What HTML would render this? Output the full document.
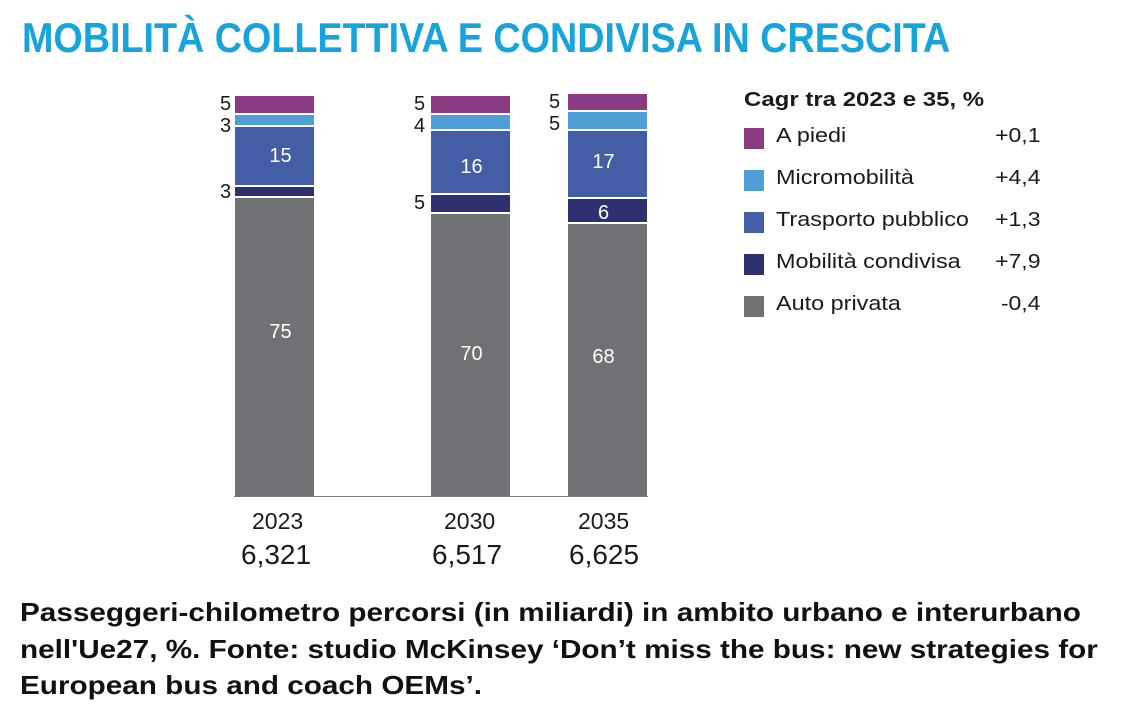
<!DOCTYPE html>
<html><head><meta charset="utf-8"><style>
body{margin:0;width:1146px;height:712px;background:#fff;position:relative;overflow:hidden;font-family:"Liberation Sans",Arial,sans-serif;color:#1a1a1a}
.a{position:absolute}
.t{left:22px;top:14px;font-size:42px;font-weight:bold;color:#17a3dc;white-space:nowrap;transform-origin:0 0;transform:scaleX(0.898)}
.s{position:absolute;border-bottom:2px solid #fff;box-sizing:border-box}
.w{color:#fff;font-size:20px;text-align:center;position:absolute;width:79px}
.l{font-size:20px;position:absolute}
.sq{position:absolute;left:744px;width:20px;height:21px}
.lt{position:absolute;left:776px;font-size:20px;transform-origin:0 0;transform:scaleX(1.17);white-space:nowrap}
.lv{position:absolute;right:106px;font-size:20px;transform-origin:100% 0;transform:scaleX(1.15)}
.cap{left:20px;top:594px;font-size:26px;font-weight:bold;line-height:36.5px;color:#111;white-space:nowrap;transform-origin:0 0;transform:scaleX(1.142)}
</style></head><body>
<div class="a t">MOBILITÀ COLLETTIVA E CONDIVISA IN CRESCITA</div>

<div class="s" style="left:235px;width:79px;top:96px;height:19px;background:#8b3a84"></div>
<div class="s" style="left:235px;width:79px;top:115px;height:12px;background:#4f9fd6"></div>
<div class="s" style="left:235px;width:79px;top:127px;height:60px;background:#445ea6"></div>
<div class="s" style="left:235px;width:79px;top:187px;height:11px;background:#2e3070"></div>
<div class="s" style="left:235px;width:79px;top:198px;height:299px;background:#707174;border:none"></div>
<div class="s" style="left:431px;width:79px;top:96px;height:19px;background:#8b3a84"></div>
<div class="s" style="left:431px;width:79px;top:115px;height:16px;background:#4f9fd6"></div>
<div class="s" style="left:431px;width:79px;top:131px;height:64px;background:#445ea6"></div>
<div class="s" style="left:431px;width:79px;top:195px;height:19px;background:#2e3070"></div>
<div class="s" style="left:431px;width:79px;top:214px;height:283px;background:#707174;border:none"></div>
<div class="s" style="left:568px;width:79px;top:94px;height:18px;background:#8b3a84"></div>
<div class="s" style="left:568px;width:79px;top:112px;height:19px;background:#4f9fd6"></div>
<div class="s" style="left:568px;width:79px;top:131px;height:68px;background:#445ea6"></div>
<div class="s" style="left:568px;width:79px;top:199px;height:25px;background:#2e3070"></div>
<div class="s" style="left:568px;width:79px;top:224px;height:273px;background:#707174;border:none"></div>
<div class="a" style="left:234px;top:496px;width:414px;height:1px;background:#777"></div>

<div class="w" style="left:241px;top:145px">15</div>
<div class="w" style="left:241px;top:321px">75</div>
<div class="w" style="left:432px;top:156px">16</div>
<div class="w" style="left:432px;top:343px">70</div>
<div class="w" style="left:564px;top:151px">17</div>
<div class="w" style="left:564px;top:202px">6</div>
<div class="w" style="left:564px;top:346px">68</div>

<div class="l" style="left:220px;top:93px">5</div>
<div class="l" style="left:220px;top:115px">3</div>
<div class="l" style="left:220px;top:181px">3</div>
<div class="l" style="left:414px;top:93px">5</div>
<div class="l" style="left:414px;top:115px">4</div>
<div class="l" style="left:414px;top:192px">5</div>
<div class="l" style="left:549px;top:91px">5</div>
<div class="l" style="left:549px;top:113px">5</div>

<div class="a" style="left:252px;top:508px;font-size:23px">2023</div>
<div class="a" style="left:444px;top:508px;font-size:23px">2030</div>
<div class="a" style="left:578px;top:508px;font-size:23px">2035</div>
<div class="a" style="left:241px;top:539px;font-size:28px">6,321</div>
<div class="a" style="left:432px;top:539px;font-size:28px">6,517</div>
<div class="a" style="left:569px;top:539px;font-size:28px">6,625</div>

<div class="a" style="left:744px;top:89px;font-size:20px;font-weight:bold;transform-origin:0 0;transform:scaleX(1.2);white-space:nowrap">Cagr tra 2023 e 35, %</div>
<div class="sq" style="top:128px;background:#8b3a84"></div><div class="lt" style="top:125px">A piedi</div><div class="lv" style="top:125px">+0,1</div>
<div class="sq" style="top:170px;background:#4f9fd6"></div><div class="lt" style="top:167px">Micromobilità</div><div class="lv" style="top:167px">+4,4</div>
<div class="sq" style="top:212px;background:#445ea6"></div><div class="lt" style="top:209px">Trasporto pubblico</div><div class="lv" style="top:209px">+1,3</div>
<div class="sq" style="top:254px;background:#2e3070"></div><div class="lt" style="top:251px">Mobilità condivisa</div><div class="lv" style="top:251px">+7,9</div>
<div class="sq" style="top:296px;background:#707174"></div><div class="lt" style="top:293px">Auto privata</div><div class="lv" style="top:293px">-0,4</div>

<div class="a cap">Passeggeri-chilometro percorsi (in miliardi) in ambito urbano e interurbano<br>nell'Ue27, %. Fonte: studio McKinsey ‘Don’t miss the bus: new strategies for<br>European bus and coach OEMs’.</div>
</body></html>
